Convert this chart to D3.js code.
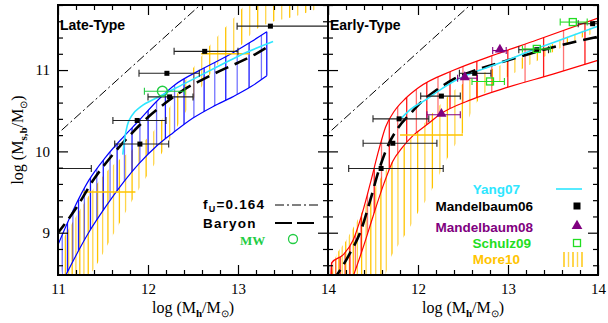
<!DOCTYPE html>
<html>
<head>
<meta charset="utf-8">
<script src="https://cdn.jsdelivr.net/npm/d3@7"></script>
<style>
  body { margin: 0; background: #fff; }
  svg { display: block; }
  .tick text { font-family: "Liberation Serif", serif; font-size: 15px; }
</style>
</head>
<body>
<svg id="chart" width="608" height="323"></svg>
<script>
// ---- data ----
const xTicks = [11, 12, 13, 14];
const yTicks = [9, 10, 11];
const panelTitles = ["Late-Type", "Early-Type"];

// f_U = 0.164 line (same in both panels)
const fuLine = [[10.9, 10.12], [12.7, 11.92]];

// late-type panel
const lateBaryon = [[10.98, 8.97], [11.2, 9.3], [11.4, 9.66], [11.6, 9.95], [11.8, 10.2], [12.0, 10.42], [12.2, 10.6], [12.4, 10.76], [12.6, 10.88], [12.8, 10.99], [13.0, 11.09], [13.2, 11.2], [13.32, 11.28]];
const lateBandUpper = [[10.98, 8.8], [11.17, 9.28], [11.34, 9.64], [11.53, 9.93], [11.72, 10.17], [11.9, 10.38], [12.1, 10.62], [12.3, 10.82], [12.58, 11.0], [12.94, 11.21], [13.15, 11.35], [13.32, 11.47]];
const lateBandLower = [[11.06, 8.42], [11.34, 9.0], [11.53, 9.32], [11.72, 9.61], [11.9, 9.85], [12.09, 10.06], [12.28, 10.23], [12.5, 10.41], [12.72, 10.55], [12.94, 10.67], [13.15, 10.8], [13.32, 10.93]];
const lateYang = [[11.72, 9.96], [11.74, 10.15], [11.77, 10.32], [11.82, 10.44], [11.92, 10.55], [12.1, 10.66], [12.4, 10.83], [12.77, 11.04], [13.02, 11.18], [13.39, 11.35]];
const lateMoreUpper = [[11.07, 8.95], [11.2, 9.2], [11.4, 9.55], [11.6, 9.82], [11.8, 10.0], [12.0, 10.17], [12.2, 10.47], [12.4, 10.85], [12.6, 11.18], [12.8, 11.45], [13.0, 11.7], [13.2, 11.95], [13.92, 12.2]];
const lateMoreLower = [[11.07, 8.3], [11.35, 8.48], [11.6, 8.95], [11.8, 9.35], [12.0, 9.72], [12.2, 10.06], [12.4, 10.45], [12.6, 10.8], [12.8, 11.1], [13.0, 11.27], [13.2, 11.5], [13.4, 11.6], [13.6, 11.65], [13.8, 11.72], [13.92, 11.77]];
const lateMoreBars = [{ y: 9.5, lo: 11.28, hi: 11.86 }, { y: 11.2, lo: 12.59, hi: 13.13 }];
const lateM06 = [
  { x: 10.95, y: 9.79, lo: 10.55, hi: 11.37 },
  { x: 11.91, y: 10.09, lo: 11.63, hi: 12.23 },
  { x: 11.88, y: 10.38, lo: 11.61, hi: 12.2 },
  { x: 12.24, y: 10.67, lo: 12.0, hi: 12.5 },
  { x: 12.21, y: 10.96, lo: 11.9, hi: 12.57 },
  { x: 12.63, y: 11.23, lo: 12.29, hi: 13.0 },
  { x: 13.36, y: 11.54, lo: 12.99, hi: 14.3 }
];
const mw = [{ x: 12.16, y: 10.74, lo: 11.96, hi: 12.41 }];

// early-type panel
const earlyBaryon = [[11.05, 8.4], [11.22, 8.7], [11.37, 9.04], [11.47, 9.4], [11.56, 9.75], [11.67, 10.08], [11.78, 10.29], [11.92, 10.47], [12.05, 10.62], [12.2, 10.75], [12.4, 10.89], [12.7, 11.02], [13.0, 11.12], [13.3, 11.22], [13.6, 11.31], [14.0, 11.41]];
const earlyBandUpper = [[11.03, 8.4], [11.04, 8.63], [11.17, 8.73], [11.28, 8.91], [11.37, 9.2], [11.48, 9.65], [11.56, 10.0], [11.64, 10.3], [11.74, 10.5], [11.86, 10.65], [12.0, 10.78], [12.4, 11.0], [12.83, 11.18], [13.32, 11.37], [14.0, 11.64]];
const earlyBandLower = [[11.26, 8.4], [11.4, 8.85], [11.5, 9.2], [11.62, 9.6], [11.72, 9.88], [11.82, 10.04], [11.95, 10.2], [12.1, 10.33], [12.25, 10.46], [12.6, 10.64], [13.0, 10.79], [13.5, 10.95], [14.0, 11.12]];
const earlyYang = [[11.8, 10.39], [11.91, 10.51], [12.08, 10.63], [12.25, 10.76], [12.43, 10.88], [12.69, 11.0], [12.99, 11.12], [13.28, 11.25], [13.58, 11.37], [14.0, 11.54]];
const earlyMoreUpper = [[11.04, 8.45], [11.06, 8.62], [11.2, 8.9], [11.4, 9.3], [11.6, 9.7], [11.8, 10.0], [12.0, 10.25], [12.2, 10.52], [12.4, 10.75], [12.6, 10.9], [12.8, 11.0], [13.0, 11.1], [13.2, 11.17], [13.4, 11.27], [13.6, 11.38], [13.8, 11.47], [13.95, 11.53]];
const earlyMoreLower = [[11.04, 8.3], [11.6, 8.4], [11.7, 8.7], [11.8, 8.88], [11.9, 9.05], [12.0, 9.25], [12.1, 9.42], [12.2, 9.63], [12.3, 9.86], [12.4, 10.06], [12.5, 10.23], [12.6, 10.5], [12.8, 10.78], [13.0, 10.92], [13.2, 11.04], [13.4, 11.16], [13.6, 11.28], [13.8, 11.39], [13.95, 11.45]];
const earlyMoreBars = [{ y: 10.2, lo: 11.8, hi: 12.5 }];
const earlyM06 = [
  { x: 11.59, y: 9.79, lo: 11.23, hi: 12.28 },
  { x: 11.72, y: 10.1, lo: 11.39, hi: 12.21 },
  { x: 11.79, y: 10.4, lo: 11.5, hi: 12.12 },
  { x: 12.26, y: 10.68, lo: 12.03, hi: 12.47 },
  { x: 12.63, y: 10.96, lo: 12.46, hi: 12.81 },
  { x: 13.32, y: 11.25, lo: 13.12, hi: 13.45 },
  { x: 13.94, y: 11.57, lo: 13.78, hi: 14.3 }
];
const earlyM08 = [
  { x: 12.26, y: 10.45, lo: 12.1, hi: 12.47 },
  { x: 12.52, y: 10.9, lo: 12.44, hi: 12.66 },
  { x: 12.91, y: 11.24, lo: 12.83, hi: 12.98 }
];
const earlySchulz = [
  { x: 12.8, y: 10.86, lo: 12.6, hi: 12.96 },
  { x: 13.32, y: 11.26, lo: 13.16, hi: 13.47 },
  { x: 13.72, y: 11.59, lo: 13.58, hi: 13.88 }
];
const legendLabels = ["Yang07", "Mandelbaum06", "Mandelbaum08", "Schulz09", "More10"];

// ---- layout ----
const plotTop = 5, plotBottom = 275;
const gold = "#ffc400", cyan = "#2ee6ff", purple = "#800080", green = "#22dd22";

const svg = d3.select("#chart");
const y = d3.scaleLinear().domain([8.48, 11.8]).range([plotBottom, plotTop]);

const panels = [
  {
    id: "late", x: d3.scaleLinear().domain([11, 14]).range([58, 328]),
    baryon: lateBaryon, yang: lateYang,
    band: { up: lateBandUpper, lo: lateBandLower, color: "#0000ff", s0: 5, s1: 13, ramp: 1 },
    more: { up: lateMoreUpper, lo: lateMoreLower, s0: 3.3, s1: 8, ramp: 0.35 },
    moreBars: lateMoreBars
  },
  {
    id: "early", x: d3.scaleLinear().domain([11, 14]).range([328, 598]),
    baryon: earlyBaryon, yang: earlyYang,
    band: { up: earlyBandUpper, lo: earlyBandLower, color: "#ff0000", s0: 4, s1: 24, ramp: 1 },
    more: { up: earlyMoreUpper, lo: earlyMoreLower, s0: 3, s1: 7.5, ramp: 0.35 },
    moreBars: earlyMoreBars
  }
];

const defs = svg.append("defs");

// pixel positions of hatch lines; spacing widens from s0 to s1 along the band
function hatchPositions(spec, x) {
  const p0 = x(spec.up[0][0]), p1 = x(spec.up[spec.up.length - 1][0]);
  const ramp = (p1 - p0) * spec.ramp, out = [];
  for (let p = p0 + 1; p <= p1; ) {
    out.push(p);
    const t = Math.min(1, (p - p0) / ramp);
    p += spec.s0 + (spec.s1 - spec.s0) * t;
  }
  return out;
}

function errorBars(g, x, pts, color) {
  const e = g.append("g").attr("stroke", color).attr("stroke-width", 1.1);
  e.selectAll(".bar").data(pts).join("line")
    .attr("x1", d => x(d.lo)).attr("x2", d => x(d.hi))
    .attr("y1", d => y(d.y)).attr("y2", d => y(d.y));
  e.selectAll(".capl").data(pts).join("line")
    .attr("x1", d => x(d.lo)).attr("x2", d => x(d.lo))
    .attr("y1", d => y(d.y) - 3.5).attr("y2", d => y(d.y) + 3.5);
  e.selectAll(".capr").data(pts).join("line")
    .attr("x1", d => x(d.hi)).attr("x2", d => x(d.hi))
    .attr("y1", d => y(d.y) - 3.5).attr("y2", d => y(d.y) + 3.5);
}

panels.forEach((p, i) => {
  const x = p.x;
  const [x0, x1] = x.range();
  const line = d3.line().x(d => x(d[0])).y(d => y(d[1])).curve(d3.curveMonotoneX);
  const straight = d3.line().x(d => x(d[0])).y(d => y(d[1]));
  const bandPath = (up, lo) => line(up) + "L" + line(lo.slice().reverse()).slice(1) + "Z";

  defs.append("clipPath").attr("id", "clip-" + p.id)
    .append("rect").attr("x", x0).attr("y", plotTop).attr("width", x1 - x0).attr("height", plotBottom - plotTop);
  defs.append("clipPath").attr("id", "band-" + p.id).append("path").attr("d", bandPath(p.band.up, p.band.lo));
  defs.append("clipPath").attr("id", "more-" + p.id).append("path").attr("d", bandPath(p.more.up, p.more.lo));

  const g = svg.append("g").attr("clip-path", `url(#clip-${p.id})`);

  // More10 hatch
  g.append("g").attr("clip-path", `url(#more-${p.id})`)
    .selectAll("line").data(hatchPositions(p.more, x)).join("line")
    .attr("x1", d => d).attr("x2", d => d).attr("y1", 0).attr("y2", 323)
    .attr("stroke", (d, k) => k % 2 ? "#ffd54a" : gold).attr("stroke-width", 1.3);

  // model band hatch + edges
  g.append("g").attr("clip-path", `url(#band-${p.id})`)
    .selectAll("line").data(hatchPositions(p.band, x)).join("line")
    .attr("x1", d => d).attr("x2", d => d).attr("y1", 0).attr("y2", 323)
    .attr("stroke", p.band.color).attr("stroke-opacity", (d, k) => k % 2 ? 0.55 : 0.9)
    .attr("stroke-width", 1.3);
  const edges = g.append("g").attr("fill", "none").attr("stroke", p.band.color).attr("stroke-width", 1.2);
  edges.append("path").attr("d", line(p.band.up));
  edges.append("path").attr("d", line(p.band.lo));
  edges.append("path").attr("d", straight([p.band.lo[p.band.lo.length - 1], p.band.up[p.band.up.length - 1]]));

  // More10 error bars
  g.append("g").selectAll("line").data(p.moreBars).join("line")
    .attr("x1", d => x(d.lo)).attr("x2", d => x(d.hi))
    .attr("y1", d => y(d.y)).attr("y2", d => y(d.y))
    .attr("stroke", gold).attr("stroke-width", 1.5);

  // Baryon, Yang07, f_U
  g.append("path").attr("d", line(p.baryon)).attr("fill", "none")
    .attr("stroke", "#000").attr("stroke-width", 2.6).attr("stroke-dasharray", "14,7");
  g.append("path").attr("d", line(p.yang)).attr("fill", "none")
    .attr("stroke", cyan).attr("stroke-width", 1.6);
  g.append("path").attr("d", straight(fuLine)).attr("fill", "none")
    .attr("stroke", "#000").attr("stroke-width", 1).attr("stroke-dasharray", "9,3,2,3");

  // data points
  if (p.id === "late") {
    errorBars(g, x, lateM06, "#222");
    g.selectAll(".m06").data(lateM06).join("rect")
      .attr("x", d => x(d.x) - 2.5).attr("y", d => y(d.y) - 2.5).attr("width", 5).attr("height", 5).attr("fill", "#000");
    errorBars(g, x, mw, "#22cc44");
    g.selectAll(".mw").data(mw).join("circle")
      .attr("cx", d => x(d.x)).attr("cy", d => y(d.y)).attr("r", 5)
      .attr("fill", "none").attr("stroke", "#22cc44").attr("stroke-width", 1.4);
  } else {
    errorBars(g, x, earlyM06, "#222");
    g.selectAll(".m06").data(earlyM06).join("rect")
      .attr("x", d => x(d.x) - 2.5).attr("y", d => y(d.y) - 2.5).attr("width", 5).attr("height", 5).attr("fill", "#000");
    errorBars(g, x, earlyM08, purple);
    g.selectAll(".m08").data(earlyM08).join("path")
      .attr("d", d3.symbol(d3.symbolTriangle, 45))
      .attr("transform", d => `translate(${x(d.x)},${y(d.y) - 1})`).attr("fill", purple);
    errorBars(g, x, earlySchulz, green);
    g.selectAll(".sch").data(earlySchulz).join("rect")
      .attr("x", d => x(d.x) - 3.5).attr("y", d => y(d.y) - 3.5).attr("width", 7).attr("height", 7)
      .attr("fill", "none").attr("stroke", green).attr("stroke-width", 1.3);
  }

  // axes, ticks inward
  const minorX = d3.range(11, 14.001, 0.2).filter(v => Math.abs(v - Math.round(v)) > 1e-6);
  const minorY = d3.range(8.6, 11.8, 0.2).filter(v => Math.abs(v - Math.round(v)) > 1e-6);
  const clean = a => a.call(s => s.select(".domain").remove())
    .call(s => s.selectAll("line").attr("stroke-width", 1.2));

  svg.append("g").attr("transform", `translate(0,${plotBottom})`)
    .call(d3.axisBottom(x).tickValues(xTicks).tickSize(-10).tickPadding(8)
      .tickFormat(d => (i === 1 && d === 11) ? "" : d3.format("d")(d))).call(clean);
  svg.append("g").attr("transform", `translate(0,${plotBottom})`)
    .call(d3.axisBottom(x).tickValues(minorX).tickSize(-5).tickFormat("")).call(clean);
  svg.append("g").attr("transform", `translate(0,${plotTop})`)
    .call(d3.axisTop(x).tickValues(xTicks).tickSize(-10).tickFormat("")).call(clean);
  svg.append("g").attr("transform", `translate(0,${plotTop})`)
    .call(d3.axisTop(x).tickValues(minorX).tickSize(-5).tickFormat("")).call(clean);
  svg.append("g").attr("transform", `translate(${x0},0)`)
    .call(d3.axisLeft(y).tickValues(yTicks).tickSize(-10).tickPadding(8)
      .tickFormat(i === 0 ? d3.format("d") : "")).call(clean);
  svg.append("g").attr("transform", `translate(${x0},0)`)
    .call(d3.axisLeft(y).tickValues(minorY).tickSize(-5).tickFormat("")).call(clean);
  svg.append("g").attr("transform", `translate(${x1},0)`)
    .call(d3.axisRight(y).tickValues(yTicks).tickSize(-10).tickFormat("")).call(clean);
  svg.append("g").attr("transform", `translate(${x1},0)`)
    .call(d3.axisRight(y).tickValues(minorY).tickSize(-5).tickFormat("")).call(clean);

  svg.append("rect").attr("x", x0).attr("y", plotTop).attr("width", x1 - x0).attr("height", plotBottom - plotTop)
    .attr("fill", "none").attr("stroke", "#000").attr("stroke-width", 2);

  // panel title
  svg.append("text").attr("x", x0 + 2).attr("y", 30).text(panelTitles[i])
    .attr("font-family", "Liberation Sans, sans-serif").attr("font-weight", "bold").attr("font-size", 14);

  // x title
  const xt = svg.append("text").attr("x", (x0 + x1) / 2).attr("y", 313).attr("text-anchor", "middle")
    .attr("font-family", "Liberation Serif, serif").attr("font-size", 16);
  xt.append("tspan").text("log (M");
  xt.append("tspan").attr("dy", 4).attr("font-size", 11).attr("font-weight", "bold").text("h");
  xt.append("tspan").attr("dy", -4).text("/M");
  xt.append("tspan").attr("dy", 4).attr("font-size", 10).text("⊙");
  xt.append("tspan").attr("dy", -4).text(")");
});

// y title
const yt = svg.append("text").attr("transform", "translate(23,140) rotate(-90)").attr("text-anchor", "middle")
  .attr("font-family", "Liberation Serif, serif").attr("font-size", 16);
yt.append("tspan").text("log (M");
yt.append("tspan").attr("dy", 4).attr("font-size", 11).attr("font-weight", "bold").text("s,b");
yt.append("tspan").attr("dy", -4).text("/M");
yt.append("tspan").attr("dy", 4).attr("font-size", 10).text("⊙");
yt.append("tspan").attr("dy", -4).text(")");

// left legend
const lf = { "font-family": "Liberation Sans, sans-serif", "font-weight": "bold", "font-size": 13.5, "letter-spacing": 1.2 };
const fuT = svg.append("text").attr("x", 203).attr("y", 209);
Object.entries(lf).forEach(([k, v]) => fuT.attr(k, v));
fuT.append("tspan").text("f");
fuT.append("tspan").attr("dy", 3).attr("font-size", 9).text("U");
fuT.append("tspan").attr("dy", -3).text("=0.164");
const baT = svg.append("text").attr("x", 203).attr("y", 228).text("Baryon");
Object.entries(lf).forEach(([k, v]) => baT.attr(k, v));
svg.append("text").attr("x", 240).attr("y", 245).text("MW").attr("fill", "#22cc44")
  .attr("font-family", "Liberation Serif, serif").attr("font-weight", "bold").attr("font-size", 13);
svg.append("line").attr("x1", 275).attr("x2", 319).attr("y1", 205).attr("y2", 205)
  .attr("stroke", "#000").attr("stroke-width", 1).attr("stroke-dasharray", "9,3,2,3");
svg.append("line").attr("x1", 275).attr("x2", 319).attr("y1", 223).attr("y2", 223)
  .attr("stroke", "#000").attr("stroke-width", 2).attr("stroke-dasharray", "17,5");
svg.append("circle").attr("cx", 293).attr("cy", 239).attr("r", 4.5)
  .attr("fill", "none").attr("stroke", "#22cc44").attr("stroke-width", 1.3);

// right legend
const rows = [
  { y: 189, color: cyan, end: 520 },
  { y: 206, color: "#000", end: 533 },
  { y: 227, color: purple, end: 533 },
  { y: 243, color: green, end: 531 },
  { y: 259, color: gold, end: 520 }
];
rows.forEach((r, k) => {
  svg.append("text").attr("x", r.end).attr("y", r.y + 5).attr("text-anchor", "end")
    .attr("font-family", "Liberation Sans, sans-serif").attr("font-weight", "bold").attr("font-size", 13.5)
    .attr("fill", r.color).text(legendLabels[k]);
});
const sx = 577;
svg.append("line").attr("x1", 556).attr("x2", 582).attr("y1", 189).attr("y2", 189).attr("stroke", cyan).attr("stroke-width", 1.6);
svg.append("rect").attr("x", sx - 3.5).attr("y", 206 - 3.5).attr("width", 7).attr("height", 7).attr("fill", "#000");
svg.append("path").attr("d", d3.symbol(d3.symbolTriangle, 50)).attr("transform", `translate(${sx},226)`).attr("fill", purple);
svg.append("rect").attr("x", sx - 3.5).attr("y", 243 - 3.5).attr("width", 7).attr("height", 7)
  .attr("fill", "none").attr("stroke", green).attr("stroke-width", 1.3);
svg.append("g").selectAll("line").data(d3.range(5)).join("line")
  .attr("x1", k => 564 + k * 4.5).attr("x2", k => 564 + k * 4.5).attr("y1", 252).attr("y2", 267)
  .attr("stroke", (k) => k % 2 ? "#ffd54a" : gold).attr("stroke-width", 1.4);
</script>
</body>
</html>
